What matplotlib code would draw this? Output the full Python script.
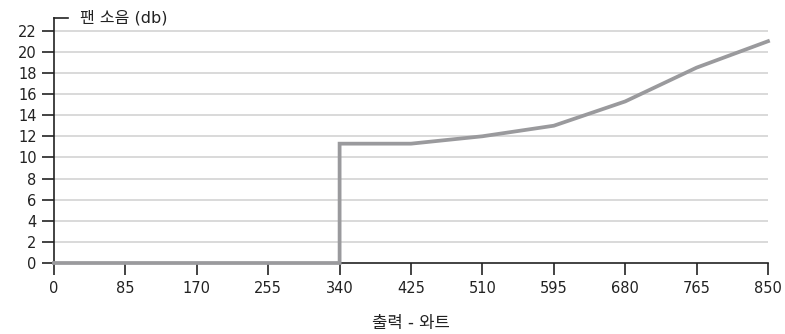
import matplotlib.pyplot as plt
from matplotlib.lines import Line2D

plt.rcParams['font.family'] = ['DejaVu Sans', 'Noto Sans CJK KR']

# fan noise curve (step at 340 W)
watts = [0, 340, 340, 425, 510, 595, 680, 765, 850]
noise_db = [0, 0, 11.3, 11.3, 12.0, 13.0, 15.3, 18.5, 21.0]
x_ticks = [0, 85, 170, 255, 340, 425, 510, 595, 680, 765, 850]
y_ticks = list(range(0, 23, 2))

fig = plt.figure(figsize=(7.85, 3.34), dpi=100)
ax = fig.add_axes([54 / 785, 1 - 263 / 334, (768 - 54) / 785, (263 - 18) / 334])

for y in y_ticks[1:]:
    ax.axhline(y, color='#d9d9d9', linewidth=1.4, zorder=1)

ax.plot(watts, noise_db, color='#9a9a9d', linewidth=2.7, zorder=3,
        solid_joinstyle='miter', clip_on=False)

ax.set_xlim(0, 850)
ax.set_ylim(0, 23.2)
ax.set_xticks(x_ticks)
ax.set_yticks(y_ticks)
ax.tick_params(axis='both', colors='#222222', labelsize=10.5, width=1.2, length=8.5)
ax.tick_params(axis='x', pad=4.5)
ax.tick_params(axis='y', pad=4)

for s in ['top', 'right']:
    ax.spines[s].set_visible(False)
for s in ['left', 'bottom']:
    ax.spines[s].set_color('#222222')
    ax.spines[s].set_linewidth(1.2)

# small stub at the top of the y axis, then the axis title
ax.add_line(Line2D([0, 0.019], [1, 1], transform=ax.transAxes, color='#222222',
                   linewidth=1.2, clip_on=False))
ax.text(0.036, 1.0, '팬 소음 (db)', transform=ax.transAxes, fontsize=11.5,
        va='center', ha='left', color='#222222')

ax.set_xlabel('출력 - 와트', fontsize=12, color='#222222', labelpad=13)

fig.savefig('out.png', dpi=100)
